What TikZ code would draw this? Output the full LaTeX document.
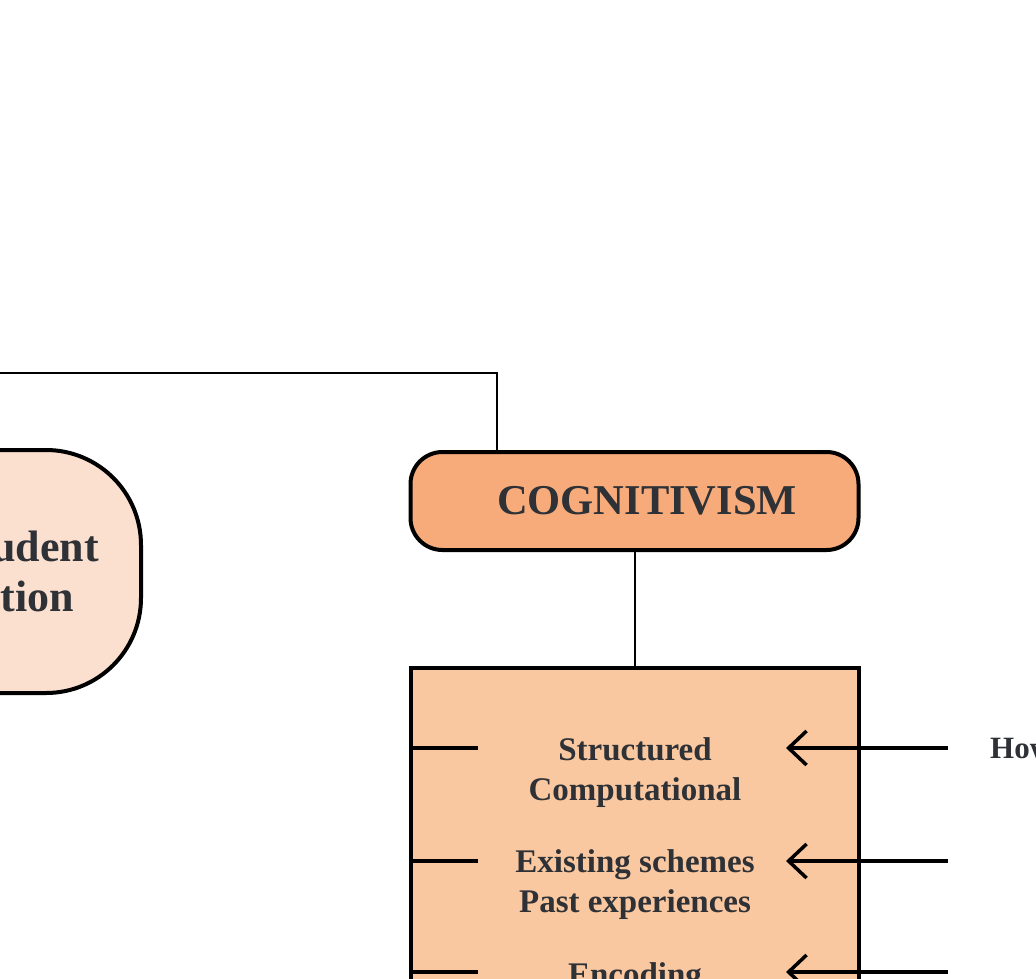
\documentclass[tikz,border=0pt]{standalone}
\usepackage{fontspec}
\setmainfont{Liberation Serif}
\usetikzlibrary{arrows.meta}
\definecolor{txt}{HTML}{2E3136}
\definecolor{cogfill}{HTML}{F7AB7B}
\definecolor{boxfill}{HTML}{FAC8A0}
\definecolor{sidefill}{HTML}{FBE0CF}
\tikzset{
  conn/.style={draw=black, line width=2pt},
  tick/.style={draw=black, line width=3.5pt},
  arr/.style={draw=black, line width=3.5pt, -{Straight Barb[length=18pt,width=34pt]}},
  rowtext/.style={text=txt, font=\bfseries\fontsize{33}{40}\selectfont, align=center, inner sep=0pt},
  headbox/.style={draw=black, line width=4pt, fill=cogfill, rounded corners=32pt,
    minimum width=448pt, minimum height=98pt, inner sep=0pt, text=txt,
    font=\bfseries\fontsize{42.5}{48}\selectfont},
  sidebox/.style={draw=black, line width=4pt, fill=sidefill, rounded corners=95pt,
    minimum width=375pt, minimum height=243pt, inner sep=0pt, text=txt, align=center,
    font=\bfseries\fontsize{44}{50}\selectfont},
  bigbox/.style={draw=black, line width=4pt, fill=boxfill, minimum width=448pt,
    minimum height=460pt, inner sep=0pt},
}
\begin{document}
\begin{tikzpicture}[x=1pt,y=-1pt]
\useasboundingbox (0,0) rectangle (1036,978);
\clip (0,0) rectangle (1036,978);
% nodes
\node[sidebox] (side) at (-46.5,571.5) {Role of Student\\in Education};
\node[headbox] (cog) at (634.5,501) {\hspace*{25pt}COGNITIVISM};
\node[bigbox, anchor=north] (big) at (634.5,666) {};
\coordinate (parent) at (-20,373);
% connectors
\draw[conn] (parent) -| ([xshift=-137.5pt]cog.north);
\draw[conn] (cog.south) -- (big.north);
% row texts
\node[rowtext] (r1) at (635,773) {Structured\\Computational};
\node[rowtext] (r2) at (635,885) {Existing schemes\\Past experiences};
\node[rowtext, anchor=base] (r3) at (635,985) {Encoding};
% right label
\node[text=txt, font=\bfseries\fontsize{31}{36}\selectfont, inner sep=0pt, anchor=base west] (how) at (990,758) {How learning occurs};
% tick marks and arrows
\foreach \y/\n in {748/1,861/2,972/3}{
  \coordinate (tl\n) at (410,\y);
  \coordinate (tr\n) at (478,\y);
  \coordinate (ao\n) at (948,\y);
  \coordinate (ai\n) at (786,\y);
  \draw[tick] (tl\n) -- (tr\n);
  \draw[arr] (ao\n) -- (ai\n);
}
\end{tikzpicture}
\end{document}
